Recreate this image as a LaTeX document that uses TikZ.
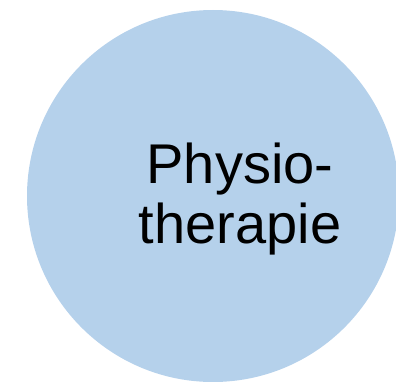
\documentclass[tikz,border=0pt]{standalone}
\usepackage{fontspec}
\setmainfont{Liberation Sans}
\definecolor{circblue}{RGB}{181,209,235}
\begin{document}
\begin{tikzpicture}[x=1pt,y=1pt,
  lbl/.style={inner sep=0pt,anchor=base,font=\fontsize{56}{60}\selectfont}]
\useasboundingbox (0,0) rectangle (396,381);
\begin{scope}
\clip (0,0) rectangle (396,381);
\fill[circblue] (213,185) circle (186);
\end{scope}
\node[lbl] (l1) at (240,198) {Physio-};
\node[lbl] (l2) at (240,138) {therapie};
\end{tikzpicture}
\end{document}
